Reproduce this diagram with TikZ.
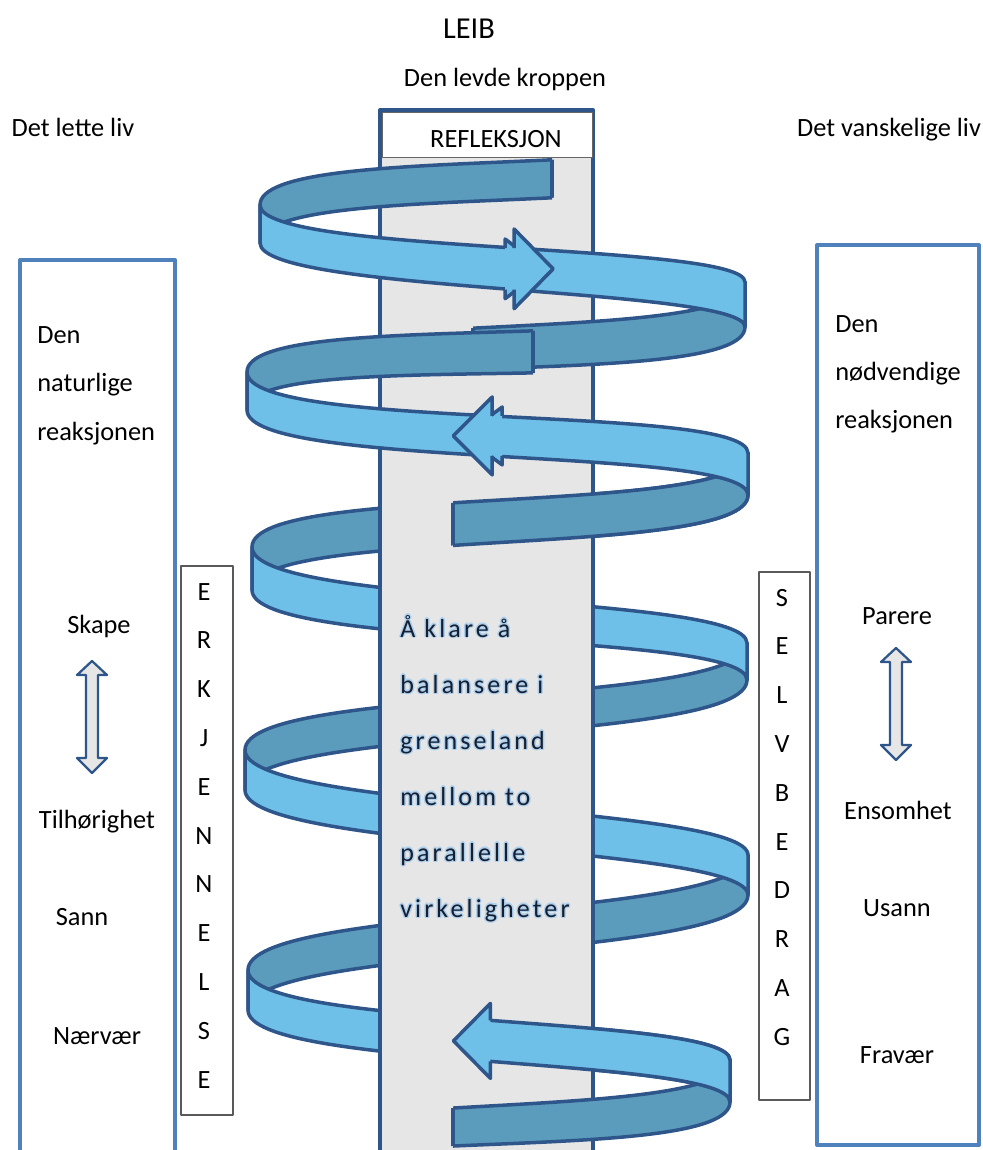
\documentclass[tikz,border=0pt]{standalone}
\usepackage{fontspec}
\setmainfont{Carlito}
\newfontfamily\spreadfont[LetterSpace=12]{Carlito}
\usetikzlibrary{calc}

\definecolor{ribbonlight}{RGB}{111,192,232}
\definecolor{ribbondark}{RGB}{91,156,189}
\definecolor{ribbonline}{RGB}{46,86,138}
\definecolor{pillargray}{RGB}{230,230,230}
\definecolor{boxblue}{RGB}{79,129,189}
\definecolor{glowblue}{RGB}{172,208,238}
\definecolor{inknavy}{RGB}{22,30,48}

% half a turn of the band: top edge (#1,#2)->(#5,#6), widths #3/#7, bends #4/#8
\newcommand{\halfturn}[8]{(#1,#2) .. controls (#1,#2+#4) and (#5,#6-#8) .. (#5,#6)
  -- (#5,#6+#7) .. controls (#5,#6+#7-#8) and (#1,#2+#3+#4) .. (#1,#2+#3) -- cycle}

% back part of the band, kept left of x=#9, squared off there
\newcommand{\bandupto}[9]{%
  \begin{scope}
    \clip (0,0) rectangle (#9,1150);
    \filldraw[backband] \halfturn{#1}{#2}{#3}{#4}{#5}{#6}{#7}{#8};
  \end{scope}
  \begin{scope}
    \clip \halfturn{#1}{#2}{#3}{#4}{#5}{#6}{#7}{#8};
    \draw[rib] (#9,0) -- (#9,1150);
  \end{scope}}

% same, kept right of x=#9
\newcommand{\bandfrom}[9]{%
  \begin{scope}
    \clip (#9,0) rectangle (983,1150);
    \filldraw[backband] \halfturn{#1}{#2}{#3}{#4}{#5}{#6}{#7}{#8};
  \end{scope}
  \begin{scope}
    \clip \halfturn{#1}{#2}{#3}{#4}{#5}{#6}{#7}{#8};
    \draw[rib] (#9,0) -- (#9,1150);
  \end{scope}}

% point at time #7 on an edge of the band
\newcommand{\rimat}[8]{\path (#1,#2) .. controls (#1,#2+#3) and (#4,#5-#6) .. (#4,#5) coordinate[pos=#7] (#8);}

% arrow head sitting on the band: upper/lower edge point, shift, overhang, length
\newcommand{\bandhead}[5]{%
  \filldraw[frontband] ($(#1)+(#3,0)$) -- ($(#1)+(#3,-#4)$)
    -- ($(#1)!0.5!(#2)+(#3+#5,0)$) -- ($(#2)+(#3,#4)$) -- ($(#2)+(#3,0)$);}

\begin{document}
\begin{tikzpicture}[x=0.2mm, y=-0.2mm, line join=round,
  lbl/.style={font=\fontsize{15}{18}\selectfont, anchor=base, inner sep=0pt},
  midtext/.style={font=\spreadfont\fontsize{14.8}{17}\selectfont, anchor=base west,
    inner sep=0pt, text=inknavy},
  rib/.style={draw=ribbonline, line width=0.7mm},
  backband/.style={rib, fill=ribbondark},
  frontband/.style={rib, fill=ribbonlight},
  pillar/.style={fill=pillargray, draw=ribbonline, line width=0.8mm},
  sidebox/.style={draw=boxblue, line width=0.8mm},
  letterbox/.style={draw=black!65, line width=0.25mm},
  dblarrow/.style={fill=pillargray, draw=ribbonline, line width=0.45mm}]

\useasboundingbox (0,0) rectangle (983,1150);

% headings
\node[lbl, font=\fontsize{17.3}{20}\selectfont] (leib) at (469,38) {LEIB};
\node[lbl] (kropp) at (505,86) {Den levde kroppen};
\node[lbl] (lett) at (73,136) {Det lette liv};
\node[lbl] (vansk) at (889,136) {Det vanskelige liv};

% the two sides
\draw[sidebox] (20,260) rectangle (175,1165);
\draw[sidebox] (817,245) rectangle (979,1145);
\draw[letterbox] (181,566) rectangle (233,1115);
\draw[letterbox] (759,572) rectangle (810,1100);

\node[lbl, anchor=base west] (nat1) at (37,343) {Den};
\node[lbl, anchor=base west] (nat2) at (37,391) {naturlige};
\node[lbl, anchor=base west] (nat3) at (37,440) {reaksjonen};
\node[lbl] (skape) at (99,633) {Skape};
\node[lbl] (tilh) at (97,828) {Tilhørighet};
\node[lbl] (sann) at (82,925) {Sann};
\node[lbl] (naer) at (97,1044) {Nærvær};

\node[lbl, anchor=base west] (nod1) at (835,332) {Den};
\node[lbl, anchor=base west] (nod2) at (835,380) {nødvendige};
\node[lbl, anchor=base west] (nod3) at (835,428) {reaksjonen};
\node[lbl] (parere) at (897,624) {Parere};
\node[lbl] (ensom) at (898,819) {Ensomhet};
\node[lbl] (usann) at (897,916) {Usann};
\node[lbl] (frav) at (897,1063) {Fravær};

\foreach \c [count=\i] in {E,R,K,J,E,N,N,E,L,S,E}
  \node[lbl] (erk\i) at (204,551.2+48.8*\i) {\c};
\foreach \c [count=\i] in {S,E,L,V,B,E,D,R,A,G}
  \node[lbl] (selv\i) at (782,557.2+48.8*\i) {\c};

\foreach \ax/\ay in {92/661,896/648}
  \filldraw[dblarrow] (\ax,\ay) -- ++(15,14) -- ++(-9,0) -- ++(0,83) -- ++(9,0)
    -- ++(-15,15) -- ++(-15,-15) -- ++(9,0) -- ++(0,-83) -- ++(-9,0) -- cycle;

% band turns hidden behind the pillar
\filldraw[backband] \halfturn{748}{453}{42}{65}{252}{547}{43}{65};
\filldraw[backband] \halfturn{747}{643}{37}{65}{245}{750}{40}{65};
\filldraw[backband] \halfturn{748}{855}{40}{65}{248}{970}{40}{65};
\filldraw[frontband] \halfturn{252}{547}{43}{60}{747}{643}{37}{50};
\filldraw[frontband] \halfturn{245}{750}{40}{60}{748}{855}{40}{50};
\filldraw[frontband] \halfturn{248}{970}{40}{60}{730}{1060}{42}{46};

% pillar
\filldraw[pillar] (380,110) rectangle (593,1165);
\filldraw[fill=white, draw=black!60, line width=0.2mm] (382,112) rectangle (592,157);
\node[lbl] (refl) at (496,147) {REFLEKSJON};

\foreach \row [count=\i] in {Å klare å, balansere i, grenseland, mellom to, parallelle, virkeligheter}{
  \foreach \a in {0,45,...,315}
    \node[midtext, text=glowblue, shift={(\a:1.4)}] at (400,581+56*\i) {\row};
  \node[midtext] (mid\i) at (400,581+56*\i) {\row};
}

% band parts lying over the pillar
\bandupto{745}{119}{38}{65}{260}{205}{38}{65}{552}
\bandfrom{745}{282}{45}{65}{247}{372}{38}{65}{473}
\bandupto{745}{292}{45}{65}{247}{372}{38}{65}{533}
\bandfrom{748}{453}{42}{65}{252}{547}{43}{65}{453}
\bandfrom{730}{1060}{42}{65}{248}{1152}{35}{65}{453}

\filldraw[frontband] \halfturn{260}{205}{38}{50}{745}{282}{45}{40};
\filldraw[frontband] \halfturn{247}{372}{38}{60}{748}{453}{42}{50};
\begin{scope}
  \clip (490,0) rectangle (983,1150);
  \filldraw[frontband] \halfturn{248}{970}{40}{60}{730}{1060}{42}{46};
\end{scope}

% arrow heads
\rimat{260}{205}{50}{745}{282}{40}{0.516}{f1u}
\rimat{260}{243}{50}{745}{327}{40}{0.516}{f1l}
\rimat{247}{372}{60}{748}{453}{50}{0.493}{f2u}
\rimat{247}{410}{60}{748}{495}{50}{0.493}{f2l}
\rimat{248}{970}{60}{730}{1060}{46}{0.502}{f5u}
\rimat{248}{1010}{60}{730}{1102}{46}{0.502}{f5l}

\bandhead{f1u}{f1l}{-9}{9}{39}
\bandhead{f1u}{f1l}{0}{19}{39}
\bandhead{f2u}{f2l}{10}{9}{-39}
\bandhead{f2u}{f2l}{0}{19}{-39}
\bandhead{f5u}{f5l}{0}{17}{-37}

\end{tikzpicture}
\end{document}
